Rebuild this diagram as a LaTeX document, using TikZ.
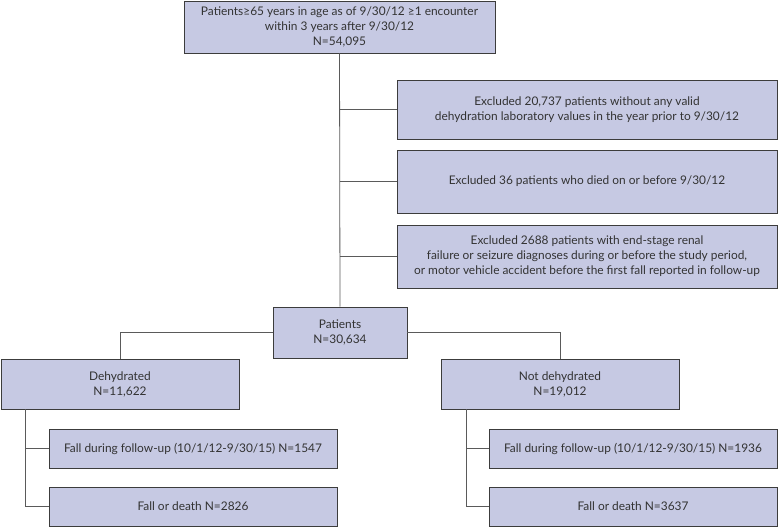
\documentclass[tikz,border=0pt]{standalone}
\usepackage{fontspec}
\setmainfont{Lato}
\usepackage{tikz}

\definecolor{boxfill}{RGB}{198,201,227}
\definecolor{boxline}{RGB}{60,60,60}
\definecolor{linkline}{RGB}{90,90,90}

\begin{document}
\begin{tikzpicture}[x=1pt, y=-1pt,
    box/.style={draw=boxline, fill=boxfill, line width=0.9pt, align=center,
        inner sep=0pt, font=\fontsize{11.9}{15}\selectfont, text=black!80},
    link/.style={draw=linkline, line width=0.8pt}]
    \useasboundingbox (0,0) rectangle (778,527);
    % Popolazione iniziale
    \node[box, minimum width=311, minimum height=52] (start) at (339.5,27)
        {Patients≥65 years in age as of 9/30/12 ≥1 encounter\\within 3 years after 9/30/12\\N=54,095};
    % Esclusi
    \node[box, minimum width=380, minimum height=59] (excl1) at (587,109.5)
        {Excluded 20,737 patients without any valid\\dehydration laboratory values in the year prior to 9/30/12};
    \node[box, minimum width=380, minimum height=63] (excl2) at (587,181.5)
        {Excluded 36 patients who died on or before 9/30/12};
    \node[box, minimum width=380, minimum height=63] (excl3) at (587,256.5)
        {Excluded 2688 patients with end-stage renal\\failure or seizure diagnoses during or before the study period,\\or motor vehicle accident before the first fall reported in follow-up};
    % Pazienti inclusi
    \node[box, minimum width=134, minimum height=51] (patients) at (340,332.5)
        {Patients\\N=30,634};
    % Gruppi
    \node[box, minimum width=238, minimum height=50] (dehyd) at (120,384)
        {Dehydrated\\N=11,622};
    \node[box, minimum width=238, minimum height=50] (nodehyd) at (560,384)
        {Not dehydrated\\N=19,012};
    % Esiti, disidratati
    \node[box, minimum width=288, minimum height=39] (fallD) at (193,448.5)
        {Fall during follow-up (10/1/12-9/30/15) N=1547};
    \node[box, minimum width=288, minimum height=39] (deathD) at (193,506.5)
        {Fall or death N=2826};
    % Esiti, non disidratati
    \node[box, minimum width=288, minimum height=39] (fallN) at (633,448.5)
        {Fall during follow-up (10/1/12-9/30/15) N=1936};
    \node[box, minimum width=288, minimum height=39] (deathN) at (633,506.5)
        {Fall or death N=3637};
    % Collegamenti
    \draw[link] (start.south) -- (patients.north);
    \draw[link] (start.south |- excl1.west) -- (excl1.west);
    \draw[link] (start.south |- excl2.west) -- (excl2.west);
    \draw[link] (start.south |- excl3.west) -- (excl3.west);
    \draw[link] (patients.west) -| (dehyd.north);
    \draw[link] (patients.east) -| (nodehyd.north);
    \coordinate (dtrunk) at (25,409);
    \coordinate (ntrunk) at (466,409);
    \draw[link] (dtrunk) |- (fallD.west);
    \draw[link] (dtrunk) |- (deathD.west);
    \draw[link] (ntrunk) |- (fallN.west);
    \draw[link] (ntrunk) |- (deathN.west);
\end{tikzpicture}
\end{document}
